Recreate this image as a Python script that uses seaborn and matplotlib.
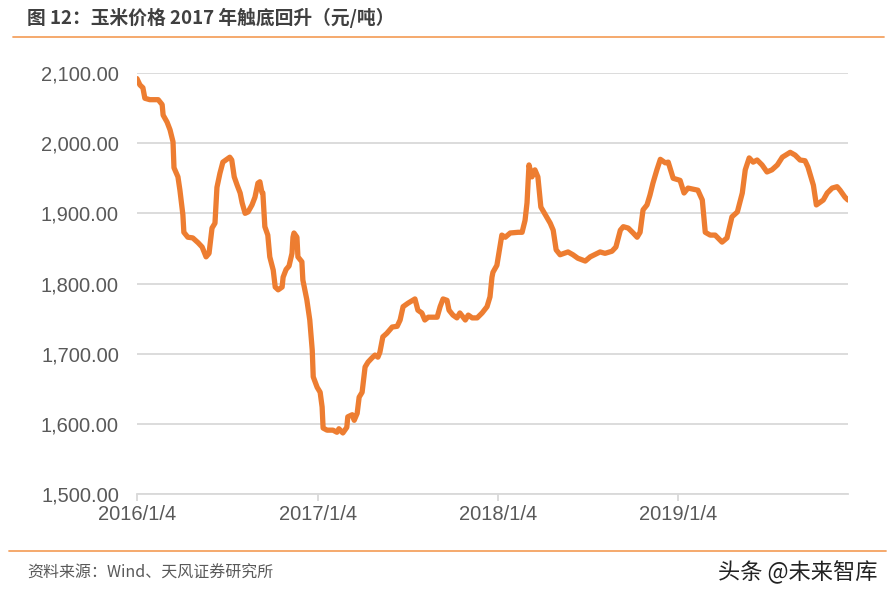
import pandas as pd
import matplotlib.pyplot as plt
from matplotlib.ticker import FuncFormatter
import seaborn as sns

sns.set_theme(style="white")
plt.rcParams['font.family'] = ['Liberation Sans', 'Noto Sans CJK SC', 'DejaVu Sans']

# corn price, yuan/ton
dates = [
    "2016-01-04", "2016-01-10", "2016-01-16", "2016-01-20", "2016-01-30", "2016-02-16", "2016-02-24",
    "2016-02-26", "2016-03-05", "2016-03-11", "2016-03-17", "2016-03-19", "2016-03-27", "2016-03-31",
    "2016-04-06", "2016-04-08", "2016-04-16", "2016-04-26", "2016-05-07", "2016-05-15", "2016-05-23",
    "2016-05-29", "2016-06-04", "2016-06-10", "2016-06-14", "2016-06-20", "2016-06-26", "2016-07-10",
    "2016-07-14", "2016-07-19", "2016-07-25", "2016-07-31", "2016-08-04", "2016-08-10", "2016-08-16",
    "2016-08-24", "2016-08-30", "2016-09-05", "2016-09-09", "2016-09-13", "2016-09-15", "2016-09-19",
    "2016-09-25", "2016-09-29", "2016-10-06", "2016-10-10", "2016-10-16", "2016-10-24", "2016-10-26",
    "2016-11-01", "2016-11-07", "2016-11-13", "2016-11-15", "2016-11-17", "2016-11-23", "2016-11-25",
    "2016-12-03", "2016-12-05", "2016-12-13", "2016-12-19", "2016-12-24", "2016-12-26", "2017-01-03",
    "2017-01-09", "2017-01-13", "2017-01-15", "2017-01-23", "2017-02-04", "2017-02-12", "2017-02-16",
    "2017-02-24", "2017-03-04", "2017-03-06", "2017-03-15", "2017-03-19", "2017-03-25", "2017-03-29",
    "2017-04-04", "2017-04-10", "2017-04-16", "2017-04-24", "2017-04-30", "2017-05-06", "2017-05-10",
    "2017-05-16", "2017-05-24", "2017-06-04", "2017-06-14", "2017-06-20", "2017-06-26", "2017-07-06",
    "2017-07-20", "2017-07-26", "2017-08-03", "2017-08-09", "2017-08-16", "2017-09-03", "2017-09-09",
    "2017-09-15", "2017-09-23", "2017-09-27", "2017-10-05", "2017-10-13", "2017-10-19", "2017-10-30",
    "2017-11-05", "2017-11-13", "2017-11-23", "2017-12-03", "2017-12-13", "2017-12-19", "2017-12-23",
    "2017-12-25", "2018-01-02", "2018-01-08", "2018-01-12", "2018-01-19", "2018-01-29", "2018-02-14",
    "2018-02-22", "2018-02-28", "2018-03-04", "2018-03-08", "2018-03-14", "2018-03-20", "2018-03-26",
    "2018-04-01", "2018-04-10", "2018-04-20", "2018-04-26", "2018-05-02", "2018-05-10", "2018-05-26",
    "2018-06-05", "2018-06-15", "2018-06-30", "2018-07-10", "2018-07-24", "2018-07-30", "2018-08-09",
    "2018-08-23", "2018-08-31", "2018-09-09", "2018-09-15", "2018-09-25", "2018-10-05", "2018-10-13",
    "2018-10-19", "2018-10-25", "2018-11-02", "2018-11-08", "2018-11-14", "2018-11-22", "2018-11-29",
    "2018-12-09", "2018-12-15", "2018-12-25", "2019-01-08", "2019-01-16", "2019-01-24", "2019-02-13",
    "2019-02-22", "2019-02-28", "2019-03-10", "2019-03-20", "2019-04-03", "2019-04-13", "2019-04-23",
    "2019-05-04", "2019-05-14", "2019-05-20", "2019-05-28", "2019-06-05", "2019-06-13", "2019-06-23",
    "2019-07-03", "2019-07-13", "2019-07-24", "2019-08-03", "2019-08-19", "2019-08-29", "2019-09-08",
    "2019-09-18", "2019-09-24", "2019-10-05", "2019-10-11", "2019-10-19", "2019-10-25", "2019-11-02",
    "2019-11-12", "2019-11-22", "2019-11-28", "2019-12-08", "2019-12-14",
]
prices = [
    2092, 2083, 2079, 2064, 2062, 2062, 2055,
    2040, 2030, 2019, 2002, 1965, 1952, 1933,
    1898, 1873, 1866, 1865, 1858, 1852, 1838,
    1843, 1879, 1886, 1937, 1957, 1973, 1980,
    1976, 1952, 1940, 1929, 1915, 1900, 1902,
    1912, 1923, 1943, 1945, 1930, 1929, 1881,
    1869, 1838, 1819, 1795, 1791, 1795, 1809,
    1820, 1825, 1843, 1866, 1872, 1866, 1838,
    1831, 1805, 1777, 1748, 1705, 1667, 1652,
    1645, 1624, 1594, 1591, 1591, 1588, 1593,
    1587, 1595, 1610, 1613, 1605, 1615, 1638,
    1645, 1681, 1688, 1694, 1698, 1695, 1702,
    1724, 1729, 1738, 1739, 1748, 1767, 1772,
    1778, 1762, 1758, 1748, 1752, 1752, 1767,
    1778, 1776, 1762, 1755, 1751, 1758, 1748,
    1755, 1751, 1751, 1758, 1767, 1781, 1809,
    1816, 1826, 1852, 1869, 1866, 1872, 1873,
    1873, 1890, 1915, 1969, 1952, 1962, 1952,
    1909, 1898, 1886, 1876, 1848, 1841, 1845,
    1841, 1836, 1832, 1838, 1843, 1845, 1843,
    1846, 1852, 1876, 1881, 1879, 1872, 1866,
    1873, 1905, 1912, 1926, 1943, 1962, 1977,
    1972, 1973, 1950, 1947, 1929, 1936, 1933,
    1919, 1873, 1869, 1869, 1859, 1865, 1895,
    1902, 1929, 1962, 1979, 1973, 1976, 1969,
    1959, 1962, 1969, 1980, 1987, 1983, 1976,
    1975, 1966, 1940, 1912, 1916, 1919, 1929,
    1936, 1938, 1933, 1923, 1919,
]
tick_dates = ["2016-01-04", "2017-01-04", "2018-01-04", "2019-01-04"]
tick_labels = ["2016/1/4", "2017/1/4", "2018/1/4", "2019/1/4"]

df = pd.DataFrame({"date": pd.to_datetime(dates), "price": prices})

fig = plt.figure(figsize=(8.94, 5.98), dpi=100)
ax = fig.add_axes([0.1532, 0.1739, 0.7953, 0.704])

sns.lineplot(data=df, x="date", y="price", ax=ax, color="#ED7D31", linewidth=3.8)

ax.set_ylim(1500, 2100)
ax.set_yticks(range(1500, 2101, 100))
ax.yaxis.set_major_formatter(FuncFormatter(lambda v, p: f"{v:,.2f}"))
ax.set_xlim(pd.Timestamp(dates[0]), pd.Timestamp(dates[-1]))
ax.set_xticks(pd.to_datetime(tick_dates))
ax.set_xticklabels(tick_labels)
ax.set_xlabel("")
ax.set_ylabel("")

ax.grid(axis="y", color="#D9D9D9", linewidth=1.3)
ax.set_axisbelow(True)
for s in ["left", "right", "top"]:
    ax.spines[s].set_visible(False)
ax.spines["bottom"].set_color("#D9D9D9")
ax.spines["bottom"].set_linewidth(1.3)
ax.tick_params(axis="x", bottom=True, length=5, width=1.3, color="#D9D9D9",
               labelsize=14.5, labelcolor="#595959", pad=3)
ax.tick_params(axis="y", left=False, length=0, labelsize=14.5, labelcolor="#595959", pad=13)

# header and footer
fig.text(0.030, 0.970, "图 12：玉米价格 2017 年触底回升（元/吨）", fontsize=13.5, fontweight="bold",
         color="#404040", va="center", ha="left", family=["Noto Sans CJK SC", "DejaVu Sans"])
fig.add_artist(plt.Line2D([0.015, 0.989], [0.938, 0.938], color="#F4A261", linewidth=1.3))
fig.add_artist(plt.Line2D([0.010, 0.991], [0.079, 0.079], color="#F4A261", linewidth=1.3))
fig.text(0.030, 0.042, "资料来源：Wind、天风证券研究所", fontsize=11.5, color="#595959",
         va="center", ha="left", family=["Noto Sans CJK SC", "DejaVu Sans"])
fig.text(0.982, 0.042, "头条 @未来智库", fontsize=16, color="#222222",
         va="center", ha="right", family=["Noto Sans CJK SC", "DejaVu Sans"])

fig.savefig("out.png", dpi=100)
